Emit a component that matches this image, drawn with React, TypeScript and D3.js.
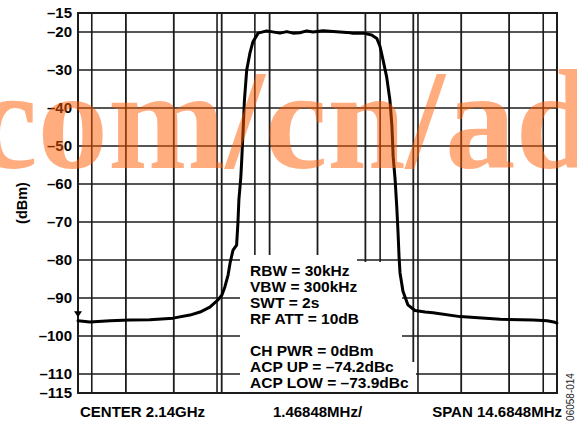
import * as d3 from "d3";

// spectrum analyser settings
const centerLabel = "CENTER 2.14GHz";
const divLabel = "1.46848MHz/";
const spanLabel = "SPAN 14.6848MHz";
const spanMHz = 14.6848;
const divisions = 10;

const yTicks = [-15, -20, -30, -40, -50, -60, -70, -80, -90, -100, -110, -115];
const gridLevels = [-20, -30, -40, -50, -60, -70, -80, -90, -100, -110];
// ACP channel markers (MHz from center)
const markerOffsets = [-6.92, -3.08, -1.92, 1.92, 3.08, 6.92];

const settingsText = [
  "RBW = 30kHz",
  "VBW = 300kHz",
  "SWT = 2s",
  "RF ATT = 10dB",
  "",
  "CH PWR = 0dBm",
  "ACP UP = \u201374.2dBc",
  "ACP LOW = \u201373.9dBc",
];

// trace, frequency offset in MHz
const traceFreq = [
  -7.34, -6.98, -6.36, -5.75, -5.14, -4.43, -3.91, -3.6, -3.3, -3.05,
  -2.93, -2.84, -2.74, -2.68, -2.59, -2.48, -2.44, -2.41, -2.35, -2.32,
  -2.28, -2.24, -2.17, -2.07, -1.98, -1.82, -1.56, -1.15, -0.94, -0.75,
  -0.54, -0.33, -0.14, 0.17, 0.48, 0.9, 1.09, 1.4, 1.66, 1.82,
  1.92, 2.01, 2.12, 2.22, 2.28, 2.32, 2.38, 2.43, 2.47, 2.5,
  2.53, 2.62, 2.77, 2.99, 3.3, 3.54, 4.37, 5.6, 6.61, 7.04,
  7.28, 7.34,
];
// trace level in dBm
const traceLevel = [
  -96.0, -96.3, -96.0, -95.8, -95.7, -95.3, -94.5, -93.7, -92.4, -90.5,
  -89.2, -87.1, -83.9, -80.8, -77.4, -76.1, -70.3, -64.2, -58.1, -53.2,
  -45.8, -37.9, -30.0, -25.5, -22.6, -20.3, -19.7, -20.3, -19.9, -20.3,
  -20.2, -19.7, -20.0, -19.7, -19.9, -20.1, -20.3, -20.3, -20.8, -21.7,
  -23.9, -27.4, -31.8, -37.9, -44.5, -52.8, -58.9, -66.0, -72.9, -79.1,
  -83.4, -88.2, -91.8, -93.3, -93.7, -93.9, -94.9, -95.6, -95.8, -96.0,
  -96.4, -96.6,
];

const W = 577;
const H = 423;
const margin = { top: 13, right: 20, bottom: 30, left: 78 };
const font = "'Liberation Sans', Arial, Helvetica, sans-serif";
const gridColor = "#1c1c1c";

export default function App() {
  const x = d3
    .scaleLinear()
    .domain([-spanMHz / 2, spanMHz / 2])
    .range([margin.left, W - margin.right]);
  const y = d3
    .scaleLinear()
    .domain([-15, -115])
    .range([margin.top, H - margin.bottom]);

  const gridFreqs = d3.range(1, divisions).map((i) => -spanMHz / 2 + (i * spanMHz) / divisions);

  const line = d3
    .line<number>()
    .x((_, i) => x(traceFreq[i]))
    .y((d) => y(d))
    .curve(d3.curveLinear);

  const x0 = x.range()[0];
  const x1 = x.range()[1];
  const y0 = y.range()[0];
  const y1 = y.range()[1];

  const textX = 250;
  const textTop = 276;
  const lineH = 16;

  return (
    <svg
      width={W}
      height={H}
      style={{ position: "absolute", left: 0, top: 0, background: "#fff" }}
      fontFamily={font}
    >
      {/* grid */}
      <g stroke={gridColor} strokeWidth={1.6}>
        {gridLevels.map((v) => (
          <line key={"h" + v} x1={x0} x2={x1} y1={y(v)} y2={y(v)} />
        ))}
        {gridFreqs.map((f, i) => (
          <line key={"v" + i} x1={x(f)} x2={x(f)} y1={y0} y2={y1} strokeWidth={1.8} />
        ))}
        {markerOffsets.map((f) => (
          <line key={"m" + f} x1={x(f)} x2={x(f)} y1={y0} y2={y1} strokeWidth={1.6} />
        ))}
      </g>

      {/* white area behind the settings text */}
      <g fill="#fff">
        <rect x={240} y={255} width={117} height={y1 - 255} />
        <rect x={357} y={262} width={45} height={y1 - 262} />
        <rect x={402} y={362} width={14} height={y1 - 362} />
      </g>

      {/* frame */}
      <rect x={x0} y={y0} width={x1 - x0} height={y1 - y0} fill="none" stroke={gridColor} strokeWidth={2} />

      {/* trace */}
      <path
        d={line(traceLevel) ?? ""}
        fill="none"
        stroke="#000"
        strokeWidth={3}
        strokeLinejoin="round"
        strokeLinecap="round"
      />

      {/* reference marker */}
      <path
        d={`M${x0 - 4},${y(-94.8) - 5} L${x0 + 4},${y(-94.8) - 5} L${x0},${y(-94.8) + 1} Z`}
        fill="#000"
      />

      {/* y tick labels */}
      <g fontSize={15} fontWeight="bold" textAnchor="end" fill="#000">
        {yTicks.map((v) => (
          <text key={v} x={72} y={y(v)} dy="0.36em">
            {"\u2013" + Math.abs(v)}
          </text>
        ))}
      </g>
      <text
        transform={`translate(27,${(y0 + y1) / 2}) rotate(-90)`}
        textAnchor="middle"
        fontSize={14.5}
        fontWeight="bold"
      >
        (dBm)
      </text>

      {/* x labels */}
      <g fontSize={15} fontWeight="bold" fill="#000">
        <text x={80} y={417}>{centerLabel}</text>
        <text x={x(0)} y={417} textAnchor="middle">{divLabel}</text>
        <text x={562} y={417} textAnchor="end">{spanLabel}</text>
      </g>

      {/* settings */}
      <g fontSize={15.5} fontWeight="bold" fill="#000">
        {settingsText.map((t, i) => (
          <text key={i} x={textX} y={textTop + i * lineH}>
            {t}
          </text>
        ))}
      </g>

      <text
        transform="translate(574,397) rotate(-90)"
        textAnchor="middle"
        fontSize={10}
        fill="#222"
      >
        06058-014
      </text>

      {/* watermark */}
      <text
        x={-25}
        y={168}
        fontFamily="'Liberation Serif', 'Times New Roman', serif"
        fontWeight="bold"
        fontSize={141}
        fill="#ff5a00"
        fillOpacity={0.5}
      >
        com/cn/ad
      </text>
    </svg>
  );
}
